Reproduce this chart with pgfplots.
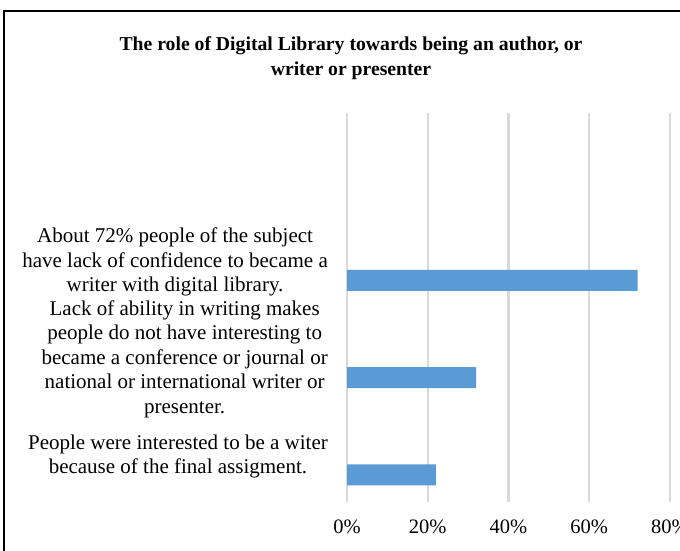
\documentclass[border=0pt]{standalone}
\usepackage{fontspec}
\setmainfont{Liberation Serif}
\usepackage{pgfplots}
\pgfplotsset{compat=1.18}
\definecolor{barblue}{HTML}{5B9BD5}
\definecolor{gridgray}{HTML}{D9D9D9}
\begin{document}
\begin{tikzpicture}[x=1pt,y=1pt]
\useasboundingbox (0,0) rectangle (680,-551);
\fill[white] (0,0) rectangle (680,-551);
\draw[line width=1.5pt] (4,-11) rectangle (720,-600);
\node[font=\fontsize{19.7}{25}\selectfont\bfseries, align=center] at (351,-58)
  {The role of Digital Library towards being an author, or\\ writer or presenter};
\begin{axis}[
  at={(347pt,-502pt)}, anchor=south west,
  width=323pt, height=389pt, scale only axis,
  xbar, bar width=21pt, bar shift=-21.5pt,
  xmin=0, xmax=80, ymin=-0.5, ymax=3.5,
  xtick={0,20,40,60,80},
  xticklabels={0\%,20\%,40\%,60\%,80\%},
  ytick={0,1,2,3},
  yticklabels={
    {People were interested to be a witer\\because of the final assigment.},
    {Lack of ability in writing makes\\people do not have interesting to\\became a conference or journal or\\national or international writer or\\presenter.},
    {About 72\% people of the subject\\have lack of confidence to became a\\writer with digital library.},
    {}},
  yticklabel style={align=center, anchor=east, inner sep=0pt, xshift=-19pt,
    yshift=-3pt, font=\fontsize{21}{24.5}\selectfont},
  xticklabel style={anchor=north, inner sep=0pt, yshift=-18pt,
    font=\fontsize{20.5}{24}\selectfont},
  axis line style={draw=none},
  major tick length=0pt,
  xmajorgrids, grid style={gridgray, line width=2.2pt},
  clip=false,
]
\addplot[fill=barblue, draw=none] coordinates {(22,0) (32,1) (72,2)};
\end{axis}
\end{tikzpicture}
\end{document}
